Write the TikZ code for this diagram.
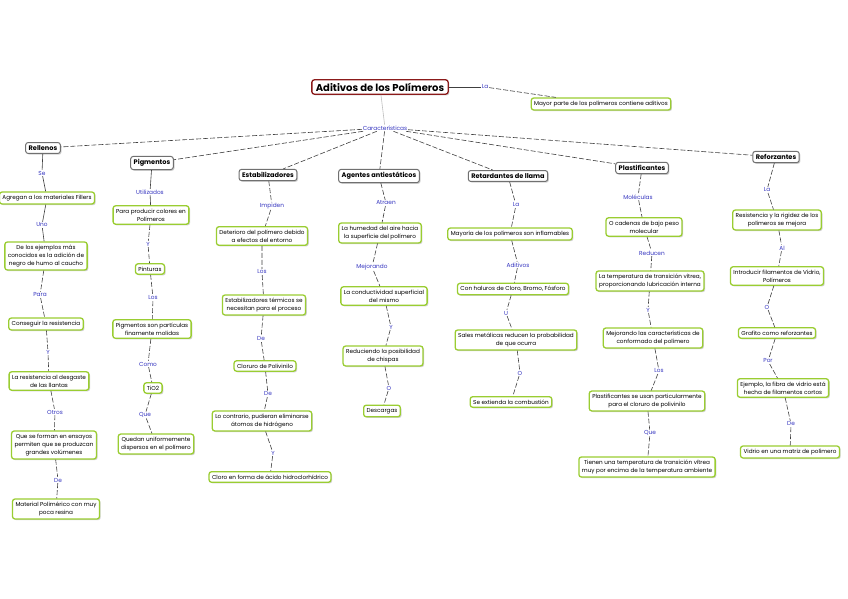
\documentclass[tikz,border=0pt]{standalone}
\usepackage{fontspec}
\setmainfont{Poppins}
\usepackage{xcolor}
\usetikzlibrary{shadows}

\definecolor{boxgreen}{HTML}{9ACD32}
\definecolor{boxgray}{HTML}{707070}
\definecolor{titlered}{HTML}{8B1A1A}
\definecolor{linkblue}{HTML}{3535C0}

\begin{document}
\begin{tikzpicture}[x=1pt,y=-1pt,
        concept/.style={rectangle,rounded corners=2.5pt,draw=boxgreen,line width=1.3pt,fill=white,align=center,
            font=\fontsize{5.7}{8}\selectfont,inner xsep=3pt,inner ysep=3pt,
            drop shadow={shadow xshift=1.2pt,shadow yshift=-1.2pt,opacity=0.35}},
        cat/.style={concept,draw=boxgray,line width=1pt,font=\bfseries\fontsize{6.6}{8}\selectfont},
        titlebox/.style={concept,draw=titlered,line width=1.3pt,font=\bfseries\fontsize{10}{12}\selectfont,inner xsep=4pt},
        lbl/.style={font=\fontsize{5.8}{7}\selectfont,text=linkblue,fill=white,inner sep=0.8pt},
        link/.style={draw=black!75,line width=0.6pt,dash pattern=on 5pt off 2pt},
        slink/.style={draw=black!75,line width=0.6pt}]
        \useasboundingbox[fill=white] (0,0) rectangle (848,599);
        % title
        \node[titlebox] (tit) at (380,87) {Aditivos de los Polímeros};
        \node[lbl] (ltit) at (485,87) {La};
        \node[concept] (may) at (601,104) {Mayor parte de los polímeros contiene aditivos};
        \node[lbl] (car) at (385,128) {Características};
        % categories
        \node[cat] (rel) at (43,148) {Rellenos};
        \node[cat] (pig) at (152,163) {Pigmentos};
        \node[cat] (est) at (268,175) {Estabilizadores};
        \node[cat] (ant) at (379,176) {Agentes antiestáticos};
        \node[cat] (ret) at (508,176) {Retardantes de llama};
        \node[cat] (pla) at (642,168) {Plastificantes};
        \node[cat] (ref) at (776,157) {Reforzantes};
        % rellenos
        \node[lbl] (lrel1) at (42,173) {Se};
        \node[concept] (rel1) at (47,198) {Agregan a los materiales Fillers};
        \node[lbl] (lrel2) at (42,225) {Uno};
        \node[concept] (rel2) at (46,256) {De los ejemplos más\\conocidos es la adición de\\negro de humo al caucho};
        \node[lbl] (lrel3) at (40,295) {Para};
        \node[concept] (rel3) at (46,324) {Conseguir la resistencia};
        \node[lbl] (lrel4) at (48,352) {Y};
        \node[concept] (rel4) at (49,381) {La resistencia al desgaste\\de las llantas};
        \node[lbl] (lrel5) at (55,412) {Otros};
        \node[concept] (rel5) at (54,445) {Que se forman en ensayos\\permiten que se produzcan\\grandes volúmenes};
        \node[lbl] (lrel6) at (58,480) {De};
        \node[concept] (rel6) at (56,509) {Material Polimérico con muy\\poca resina};
        % pigmentos
        \node[lbl] (lpig1) at (150,192) {Utilizados};
        \node[concept] (pig1) at (151,215) {Para producir colores en\\Polímeros};
        \node[lbl] (lpig2) at (148,244) {Y};
        \node[concept] (pig2) at (150,269) {Pinturas};
        \node[lbl] (lpig3) at (153,298) {Los};
        \node[concept] (pig3) at (152,329) {Pigmentos son partículas\\finamente molidas};
        \node[lbl] (lpig4) at (148,364) {Como};
        \node[concept] (pig4) at (153,388) {TiO2};
        \node[lbl] (lpig5) at (145,415) {Que};
        \node[concept] (pig5) at (156,444) {Quedan uniformemente\\dispersos en el polímero};
        % estabilizadores
        \node[lbl] (lest1) at (272,206) {Impiden};
        \node[concept] (est1) at (262,236) {Deterioro del polímero debido\\a efectos del entorno};
        \node[lbl] (lest2) at (262,272) {Los};
        \node[concept] (est2) at (264,305) {Estabilizadores térmicos se\\necesitan para el proceso};
        \node[lbl] (lest3) at (261,339) {De};
        \node[concept] (est3) at (265,366) {Cloruro de Polivinilo};
        \node[lbl] (lest4) at (268,394) {De};
        \node[concept] (est4) at (262,421) {Lo contrario, pudieran eliminarse\\átomos de hidrógeno};
        \node[lbl] (lest5) at (273,453) {Y};
        \node[concept] (est5) at (270,477) {Cloro en forma de ácido hidroclorhídrico};
        % agentes antiestaticos
        \node[lbl] (lant1) at (386,203) {Atraen};
        \node[concept] (ant1) at (380,233) {La humedad del aire hacia\\la superficie del polímero};
        \node[lbl] (lant2) at (372,267) {Mejorando};
        \node[concept] (ant2) at (384,296) {La conductividad superficial\\del mismo};
        \node[lbl] (lant3) at (391,327) {Y};
        \node[concept] (ant3) at (383,356) {Reduciendo la posibilidad\\de chispas};
        \node[lbl] (lant4) at (389,388) {O};
        \node[concept] (ant4) at (382,411) {Descargas};
        % retardantes
        \node[lbl] (lret1) at (516,205) {La};
        \node[concept] (ret1) at (510,234) {Mayoría de los polímeros son inflamables};
        \node[lbl] (lret2) at (518,265) {Aditivos};
        \node[concept] (ret2) at (513,289) {Con haluros de Cloro, Bromo, Fósforo};
        \node[lbl] (lret3) at (506,313) {U};
        \node[concept] (ret3) at (516,340) {Sales metálicas reducen la probabilidad\\de que ocurra};
        \node[lbl] (lret4) at (520,373) {O};
        \node[concept] (ret4) at (511,402) {Se extienda la combustión};
        % plastificantes
        \node[lbl] (lpla1) at (638,197) {Moléculas};
        \node[concept] (pla1) at (644,227) {O cadenas de bajo peso\\molecular};
        \node[lbl] (lpla2) at (652,253) {Reducen};
        \node[concept] (pla2) at (650,281) {La temperatura de transición vítrea,\\proporcionando lubricación interna};
        \node[lbl] (lpla3) at (648,310) {Y};
        \node[concept] (pla3) at (653,338) {Mejorando las características de\\conformado del polímero};
        \node[lbl] (lpla4) at (659,371) {Los};
        \node[concept] (pla4) at (647,401) {Plastificantes se usan particularmente\\para el cloruro de polivinilo};
        \node[lbl] (lpla5) at (650,433) {Que};
        \node[concept] (pla5) at (647,467) {Tienen una temperatura de transición vítrea\\muy por encima de la temperatura ambiente};
        % reforzantes
        \node[lbl] (lref1) at (767,190) {La};
        \node[concept] (ref1) at (777,220) {Resistencia y la rigidez de los\\polímeros se mejora};
        \node[lbl] (lref2) at (782,248) {Al};
        \node[concept] (ref2) at (777,276) {Introducir filamentos de Vidrio,\\Polímeros};
        \node[lbl] (lref3) at (767,307) {O};
        \node[concept] (ref3) at (777,333) {Grafito como reforzantes};
        \node[lbl] (lref4) at (768,361) {Por};
        \node[concept] (ref4) at (783,388) {Ejemplo, la fibra de vidrio está\\hecha de filamentos cortos};
        \node[lbl] (lref5) at (791,424) {De};
        \node[concept] (ref5) at (790,452) {Vidrio en una matriz de polímero};
        % links
        \draw[slink] (tit) -- (ltit);
        \draw[link] (ltit) -- (may);
        \draw[slink,black!25] (tit) -- (car);
        \draw[link] (car) -- (rel);
        \draw[link] (car) -- (pig);
        \draw[link] (car) -- (est);
        \draw[link] (car) -- (ant);
        \draw[link] (car) -- (ret);
        \draw[link] (car) -- (pla);
        \draw[link] (car) -- (ref);
        \draw[slink] (rel) -- (lrel1) -- (rel1) -- (lrel2) -- (rel2);
        \draw[link] (rel2) -- (lrel3) -- (rel3) -- (lrel4) -- (rel4) -- (lrel5) -- (rel5) -- (lrel6) -- (rel6);
        \draw[slink] (pig) -- (lpig1) -- (pig1);
        \draw[link] (pig1) -- (lpig2) -- (pig2) -- (lpig3) -- (pig3) -- (lpig4) -- (pig4) -- (lpig5) -- (pig5);
        \draw[link] (est) -- (lest1) -- (est1) -- (lest2) -- (est2) -- (lest3) -- (est3) -- (lest4) -- (est4) -- (lest5) -- (est5);
        \draw[link] (ant) -- (lant1) -- (ant1) -- (lant2) -- (ant2) -- (lant3) -- (ant3) -- (lant4) -- (ant4);
        \draw[link] (ret) -- (lret1) -- (ret1) -- (lret2) -- (ret2) -- (lret3) -- (ret3) -- (lret4) -- (ret4);
        \draw[link] (pla) -- (lpla1) -- (pla1) -- (lpla2) -- (pla2) -- (lpla3) -- (pla3) -- (lpla4) -- (pla4) -- (lpla5) -- (pla5);
        \draw[link] (ref) -- (lref1) -- (ref1) -- (lref2) -- (ref2) -- (lref3) -- (ref3) -- (lref4) -- (ref4) -- (lref5) -- (ref5);
    \end{tikzpicture}
\end{document}
